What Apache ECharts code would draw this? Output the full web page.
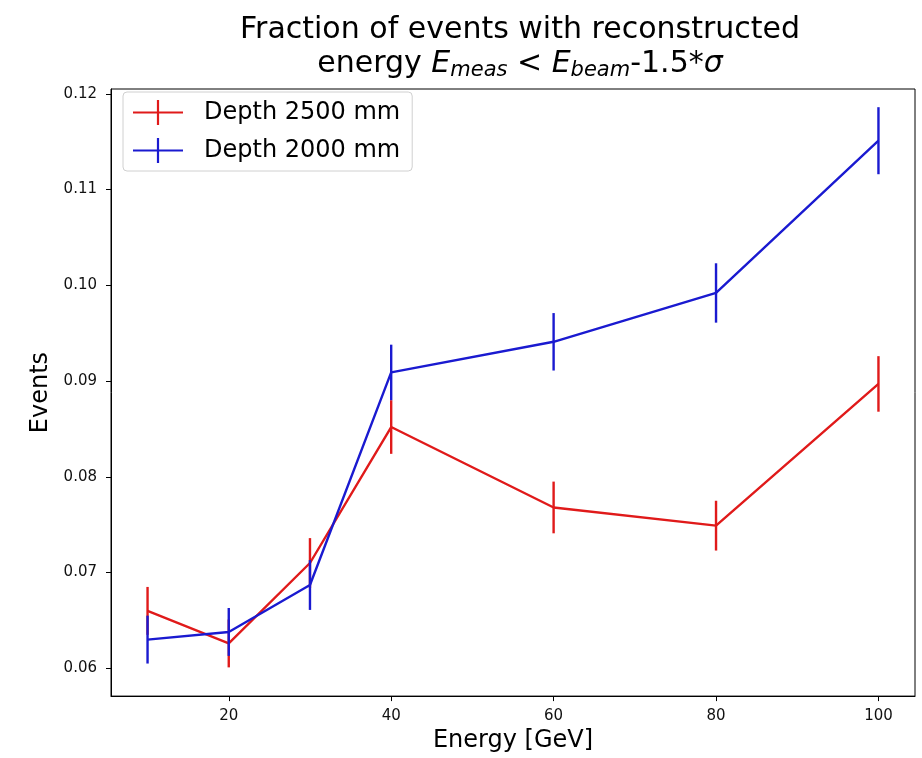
<!DOCTYPE html>
<html>
<head>
<meta charset="utf-8">
<script src="https://cdn.jsdelivr.net/npm/echarts@6/dist/echarts.min.js"></script>
<style>
  html, body { margin: 0; padding: 0; background: #fff; }
  #chart { width: 922px; height: 758px; }
</style>
</head>
<body>
<div id="chart"></div>
<script>
var energies = [10, 20, 30, 40, 60, 80, 100];
var depth2500 = [0.0660, 0.0626, 0.0710, 0.0852, 0.0768, 0.0749, 0.0897];
var err2500 = [0.0025, 0.0025, 0.0026, 0.0028, 0.0027, 0.0026, 0.0029];
var depth2000 = [0.0630, 0.0638, 0.0687, 0.0909, 0.0941, 0.0992, 0.1151];
var err2000 = [0.0025, 0.0025, 0.0026, 0.0029, 0.0030, 0.0031, 0.0035];
var xTicks = [20, 40, 60, 80, 100];
var yTicks = [0.06, 0.07, 0.08, 0.09, 0.10, 0.11, 0.12];

var red = '#e01a1a';
var blue = '#1a1ad0';
var font = 'DejaVu Sans';
var crossIcon = 'path://M0,11.4h50v2.2h-50z M23.9,0h2.2v25h-2.2z';

function pts(vals) {
    return energies.map(function (e, i) { return [e, vals[i]]; });
}
function errPts(vals, errs) {
    return energies.map(function (e, i) { return [e, vals[i], errs[i]]; });
}
function errRender(color) {
    return function (params, api) {
        var x = api.value(0), y = api.value(1), e = api.value(2);
        var top = api.coord([x, y + e]);
        var bot = api.coord([x, y - e]);
        return {
            type: 'line',
            shape: { x1: top[0], y1: top[1], x2: bot[0], y2: bot[1] },
            style: { stroke: color, lineWidth: 2.4 }
        };
    };
}

var chart = echarts.init(document.getElementById('chart'));

var option = {
    animation: false,
    backgroundColor: '#fff',
    title: {
        left: 515,
        textAlign: 'center',
        top: 8,
        text: 'Fraction of events with reconstructed\n{n|energy }{i|E}{s|meas}{n| < }{i|E}{s|beam}{n|-1.5*}{i|σ}',
        textStyle: {
            fontFamily: font,
            fontSize: 30,
            fontWeight: 'normal',
            color: '#000',
            lineHeight: 34,
            rich: {
                n: { fontFamily: font, fontSize: 30, color: '#000' },
                i: { fontFamily: font, fontSize: 30, fontStyle: 'italic', color: '#000' },
                s: { fontFamily: font, fontSize: 21, fontStyle: 'italic', color: '#000', padding: [13, 0, 0, 0] }
            }
        }
    },
    legend: {
        orient: 'vertical',
        left: 123,
        top: 92,
        padding: [8, 12, 8, 10],
        itemGap: 13,
        itemWidth: 50,
        itemHeight: 25,
        backgroundColor: 'rgba(255,255,255,0.8)',
        borderColor: '#d0d0d0',
        borderWidth: 1,
        borderRadius: 4,
        textStyle: {
            fontFamily: font,
            fontSize: 24,
            color: '#000',
            padding: [0, 0, 0, 16]
        },
        data: [
            { name: 'Depth 2500 mm', icon: crossIcon, itemStyle: { color: red } },
            { name: 'Depth 2000 mm', icon: crossIcon, itemStyle: { color: blue } }
        ]
    },
    grid: {
        left: 111,
        right: 7,
        top: 89,
        bottom: 61,
        show: true,
        borderColor: '#000',
        borderWidth: 1,
        containLabel: false
    },
    xAxis: {
        type: 'value',
        min: 5.5,
        max: 104.5,
        name: 'Energy [GeV]',
        nameLocation: 'middle',
        nameGap: 32,
        nameTextStyle: { fontFamily: font, fontSize: 24, color: '#000' },
        axisLine: { show: true, lineStyle: { color: '#000', width: 1 } },
        axisTick: { show: true, length: 5, lineStyle: { color: '#000' }, customValues: xTicks },
        axisLabel: {
            fontFamily: font, fontSize: 15, color: '#111', margin: 13,
            customValues: xTicks,
            formatter: function (v) { return String(v); }
        },
        splitLine: { show: false }
    },
    yAxis: {
        type: 'value',
        min: 0.0571,
        max: 0.1205,
        name: 'Events',
        nameLocation: 'middle',
        nameGap: 53,
        nameTextStyle: { fontFamily: font, fontSize: 24, color: '#000' },
        axisLine: { show: true, lineStyle: { color: '#000', width: 1 } },
        axisTick: { show: true, length: 5, lineStyle: { color: '#000' }, customValues: yTicks },
        axisLabel: {
            fontFamily: font, fontSize: 15, color: '#111', margin: 14,
            customValues: yTicks,
            formatter: function (v) { return v.toFixed(2); }
        },
        splitLine: { show: false }
    },
    series: [
        {
            name: 'Depth 2500 mm',
            type: 'line',
            data: pts(depth2500),
            showSymbol: false,
            symbol: 'none',
            lineStyle: { color: red, width: 2.4 },
            itemStyle: { color: red },
            z: 2
        },
        {
            name: 'Depth 2500 mm',
            type: 'custom',
            data: errPts(depth2500, err2500),
            renderItem: errRender(red),
            encode: { x: 0, y: 1 },
            itemStyle: { color: red },
            z: 3
        },
        {
            name: 'Depth 2000 mm',
            type: 'line',
            data: pts(depth2000),
            showSymbol: false,
            symbol: 'none',
            lineStyle: { color: blue, width: 2.4 },
            itemStyle: { color: blue },
            z: 4
        },
        {
            name: 'Depth 2000 mm',
            type: 'custom',
            data: errPts(depth2000, err2000),
            renderItem: errRender(blue),
            encode: { x: 0, y: 1 },
            itemStyle: { color: blue },
            z: 5
        }
    ]
};

chart.setOption(option);
</script>
</body>
</html>
